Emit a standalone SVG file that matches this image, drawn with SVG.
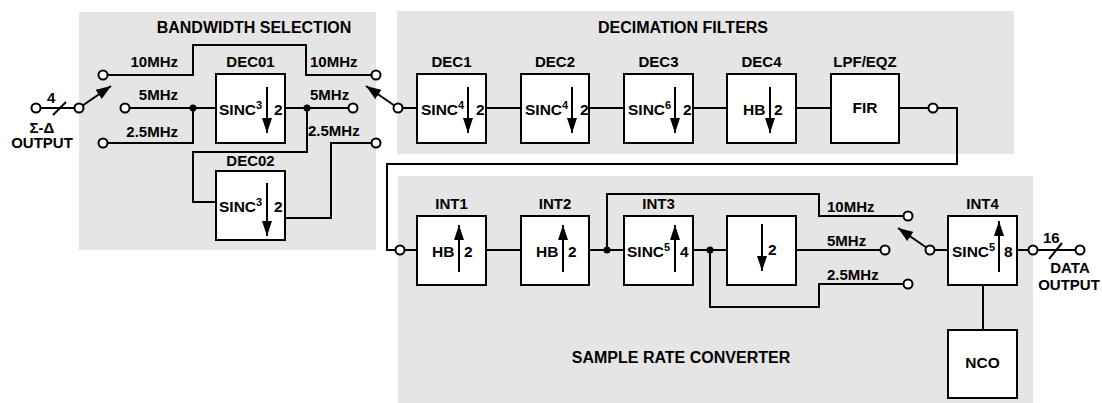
<svg xmlns="http://www.w3.org/2000/svg" width="1102" height="403" viewBox="0 0 1102 403">
<style>
.panel{fill:#e5e5e5}
.box{fill:#fff;stroke:#000;stroke-width:2}
.w{fill:none;stroke:#000;stroke-width:2}
.t{font-family:"Liberation Sans",Arial,Helvetica,sans-serif;font-weight:bold;font-size:15px;fill:#000}
.title{font-size:16px}
.in{font-size:15.5px}
.c{text-anchor:middle}
.e{text-anchor:end}
.sup{font-size:11px}
.port{fill:#fff;stroke:#000;stroke-width:2}
.dot{fill:#000}
.ar{fill:none;stroke:#000;stroke-width:2;marker-end:url(#ah)}
.sw{fill:none;stroke:#000;stroke-width:2;marker-end:url(#sh)}
</style>
<defs>
<marker id="ah" viewBox="0 0 15 10" refX="15" refY="5" markerWidth="15" markerHeight="10" markerUnits="userSpaceOnUse" orient="auto">
<path d="M0,0 L15,5 L0,10 Z" fill="#000"/>
</marker>
<marker id="sh" viewBox="0 0 15 11" refX="15" refY="5.5" markerWidth="15" markerHeight="11" markerUnits="userSpaceOnUse" orient="auto">
<path d="M0,0 L15,5.5 L0,11 Z" fill="#000"/>
</marker>
</defs>

<g id="panels">
<rect class="panel" x="79" y="12" width="297" height="238"/>
<rect class="panel" x="397" y="11" width="617" height="143"/>
<rect class="panel" x="398" y="176" width="635" height="227"/>
<text class="t title c" x="254" y="33">BANDWIDTH SELECTION</text>
<text class="t title c" x="683" y="33">DECIMATION FILTERS</text>
<text class="t title c" x="681" y="363">SAMPLE RATE CONVERTER</text>
</g>

<g id="connectors">
<path class="w" d="M36,108 H79"/>
<path class="w" d="M53,115 L66,102"/>
<path class="sw" d="M79,108 L111,86"/>
<path class="w" d="M103,75 H193 V45 H306 V75 H376"/>
<path class="w" d="M125,108 H216"/>
<path class="w" d="M103,143 H193 V108"/>
<path class="w" d="M285,108 H353"/>
<path class="w" d="M307,108 V152 H193 V202 H216"/>
<path class="w" d="M285,218 H331 V143 H376"/>
<path class="sw" d="M398,108 L366,86"/>
<path class="w" d="M398,108 H417 M486,108 H521 M589,108 H624 M693,108 H727 M796,108 H831 M899,108 H933"/>
<path class="w" d="M933,108 H957 V164 H387 V250 H400"/>
<path class="w" d="M400,250 H417 M486,250 H521 M589,250 H624 M693,250 H727 M796,250 H885"/>
<path class="w" d="M607,250 V194 H819 V216 H908"/>
<path class="w" d="M710,250 V307 H819 V284 H908"/>
<path class="sw" d="M930,250 L898,228"/>
<path class="w" d="M930,250 H948 M1017,250 H1080"/>
<path class="w" d="M1049,259 L1062,243"/>
<path class="w" d="M983,285 V330"/>
<circle class="dot" cx="193" cy="108" r="3.5"/>
<circle class="dot" cx="307" cy="108" r="3.5"/>
<circle class="dot" cx="607" cy="250" r="3.5"/>
<circle class="dot" cx="710" cy="250" r="3.5"/>
<circle class="port" cx="36" cy="108" r="4.5"/>
<circle class="port" cx="79" cy="108" r="4.5"/>
<circle class="port" cx="103" cy="75" r="4.5"/>
<circle class="port" cx="125" cy="108" r="4.5"/>
<circle class="port" cx="103" cy="143" r="4.5"/>
<circle class="port" cx="376" cy="75" r="4.5"/>
<circle class="port" cx="353" cy="108" r="4.5"/>
<circle class="port" cx="376" cy="143" r="4.5"/>
<circle class="port" cx="398" cy="108" r="4.5"/>
<circle class="port" cx="933" cy="108" r="4.5"/>
<circle class="port" cx="400" cy="250" r="4.5"/>
<circle class="port" cx="908" cy="216" r="4.5"/>
<circle class="port" cx="885" cy="250" r="4.5"/>
<circle class="port" cx="908" cy="284" r="4.5"/>
<circle class="port" cx="930" cy="250" r="4.5"/>
<circle class="port" cx="1033" cy="250" r="4.5"/>
<circle class="port" cx="1080" cy="250" r="4.5"/>
<text class="t" x="47" y="103">4</text>
<text class="t c" x="42" y="133">Σ-Δ</text>
<text class="t c" x="42" y="148">OUTPUT</text>
<text class="t e" x="178" y="67">10MHz</text>
<text class="t e" x="178" y="100">5MHz</text>
<text class="t e" x="178" y="137">2.5MHz</text>
<text class="t" x="310" y="67">10MHz</text>
<text class="t" x="310" y="100">5MHz</text>
<text class="t" x="308" y="136">2.5MHz</text>
<text class="t" x="827" y="212">10MHz</text>
<text class="t" x="827" y="246">5MHz</text>
<text class="t" x="827" y="280">2.5MHz</text>
<text class="t" x="1043" y="243">16</text>
<text class="t c" x="1070" y="273">DATA</text>
<text class="t c" x="1069" y="290">OUTPUT</text>
</g>

<g id="dec01">
<rect class="box" x="216" y="74" width="69" height="69"/>
<text class="t c" x="250.5" y="67">DEC01</text>
<text class="t in" x="219" y="115">SINC<tspan class="sup" dy="-6">3</tspan></text>
<path class="ar" d="M267,87 V133"/>
<text class="t in" x="274" y="115">2</text>
</g>

<g id="dec02">
<rect class="box" x="216" y="171" width="69" height="69"/>
<text class="t c" x="250.5" y="166">DEC02</text>
<text class="t in" x="219" y="212">SINC<tspan class="sup" dy="-6">3</tspan></text>
<path class="ar" d="M267,183 V236"/>
<text class="t in" x="274" y="212">2</text>
</g>

<g id="dec1">
<rect class="box" x="417" y="74" width="69" height="69"/>
<text class="t c" x="451.5" y="67">DEC1</text>
<text class="t in" x="421" y="115">SINC<tspan class="sup" dy="-6">4</tspan></text>
<path class="ar" d="M468,87 V133"/>
<text class="t in" x="476" y="115">2</text>
</g>

<g id="dec2">
<rect class="box" x="521" y="74" width="68" height="69"/>
<text class="t c" x="555" y="67">DEC2</text>
<text class="t in" x="525" y="115">SINC<tspan class="sup" dy="-6">4</tspan></text>
<path class="ar" d="M572,87 V133"/>
<text class="t in" x="580" y="115">2</text>
</g>

<g id="dec3">
<rect class="box" x="624" y="74" width="69" height="69"/>
<text class="t c" x="658.5" y="67">DEC3</text>
<text class="t in" x="628" y="115">SINC<tspan class="sup" dy="-6">6</tspan></text>
<path class="ar" d="M675,87 V133"/>
<text class="t in" x="683" y="115">2</text>
</g>

<g id="dec4">
<rect class="box" x="727" y="74" width="69" height="69"/>
<text class="t c" x="761.5" y="67">DEC4</text>
<text class="t in" x="743" y="115">HB</text>
<path class="ar" d="M770,87 V133"/>
<text class="t in" x="774" y="115">2</text>
</g>

<g id="lpf">
<rect class="box" x="831" y="74" width="68" height="69"/>
<text class="t c" x="865" y="67">LPF/EQZ</text>
<text class="t in c" x="865" y="113">FIR</text>
</g>

<g id="int1">
<rect class="box" x="417" y="216" width="69" height="69"/>
<text class="t c" x="451.5" y="209">INT1</text>
<text class="t in" x="432" y="257">HB</text>
<path class="ar" d="M459,272 V225"/>
<text class="t in" x="464" y="257">2</text>
</g>

<g id="int2">
<rect class="box" x="521" y="216" width="68" height="69"/>
<text class="t c" x="555" y="209">INT2</text>
<text class="t in" x="536" y="257">HB</text>
<path class="ar" d="M563,272 V225"/>
<text class="t in" x="568" y="257">2</text>
</g>

<g id="int3">
<rect class="box" x="624" y="216" width="69" height="69"/>
<text class="t c" x="658.5" y="209">INT3</text>
<text class="t in" x="627" y="257">SINC<tspan class="sup" dy="-6">5</tspan></text>
<path class="ar" d="M675,272 V225"/>
<text class="t in" x="680" y="257">4</text>
</g>

<g id="dec-by-2">
<rect class="box" x="727" y="216" width="69" height="69"/>
<path class="ar" d="M762,224 V271"/>
<text class="t in" x="768" y="255">2</text>
</g>

<g id="int4">
<rect class="box" x="948" y="216" width="69" height="69"/>
<text class="t c" x="982.5" y="209">INT4</text>
<text class="t in" x="952" y="257">SINC<tspan class="sup" dy="-6">5</tspan></text>
<path class="ar" d="M999,272 V221"/>
<text class="t in" x="1004" y="257">8</text>
</g>

<g id="nco">
<rect class="box" x="948" y="330" width="69" height="68"/>
<text class="t in c" x="982.5" y="368">NCO</text>
</g>
</svg>
